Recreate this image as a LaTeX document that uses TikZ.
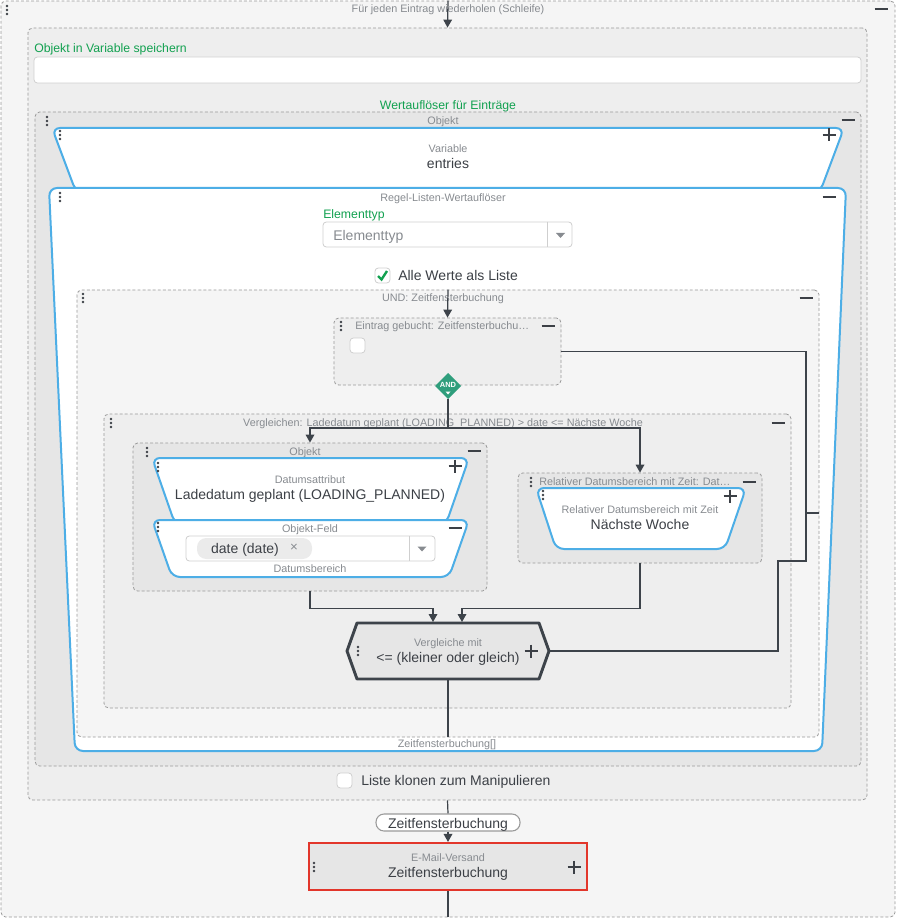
\documentclass[tikz,border=0pt]{standalone}
\usepackage{fontspec}
\setmainfont{Liberation Sans}
\usetikzlibrary{fit,arrows.meta}

\definecolor{loopbg}{HTML}{F5F5F5}
\definecolor{boxbg}{HTML}{EEEEEE}
\definecolor{objbg}{HTML}{E6E6E6}
\definecolor{dashgray}{HTML}{9A9A9A}
\definecolor{blueline}{HTML}{4DAEE6}
\definecolor{greentxt}{HTML}{12A150}
\definecolor{graytxt}{HTML}{878B90}
\definecolor{darktxt}{HTML}{3C4046}
\definecolor{wirecol}{HTML}{3D434A}
\definecolor{redline}{HTML}{E2362B}
\definecolor{andgreen}{HTML}{2F9E7C}
\definecolor{fieldline}{HTML}{CFCFCF}
\definecolor{chipbg}{HTML}{EBEBEB}

\tikzset{
  dashbox/.style={draw=dashgray, dash pattern=on 2.2pt off 1.6pt, line width=0.6pt, rounded corners=3.5pt, inner sep=0pt},
  bluebox/.style={draw=blueline, line width=1.5pt, fill=white, rounded corners=6pt},
  field/.style={draw=fieldline, line width=0.6pt, fill=white, rounded corners=2.5pt, inner sep=0pt},
  tinylbl/.style={text=graytxt, font=\fontsize{8.1}{9}\selectfont, inner sep=0pt, text height=8.9pt, text depth=1.6pt},
  biglbl/.style={text=darktxt, font=\fontsize{10.5}{12}\selectfont, inner sep=0pt, text height=10.6pt, text depth=2.1pt},
  greenlbl/.style={text=greentxt, font=\fontsize{9.2}{10}\selectfont, inner sep=0pt, text height=9.7pt, text depth=1.9pt},
  wire/.style={draw=wirecol, line width=0.9pt},
  arr/.style={wire, -{Triangle[length=6pt,width=6.5pt]}},
}

\begin{document}
\begin{tikzpicture}[x=0.75pt,y=-0.75pt]
\useasboundingbox (0,0) rectangle (896,919);

 %loop
 \node[dashbox, fill=loopbg, fit={(1,1) (895,917)}] (loop) {};
 \node[tinylbl] (looplbl) at (448,8) {Für jeden Eintrag wiederholen (Schleife)};

 %store in variable
 \node[dashbox, fill=boxbg, fit={(28,28) (867,800)}] (store) {};
 \draw[arr] (loop.north) -- (store.north);
 \node[greenlbl, anchor=west] (storelbl) at (34,47) {Objekt in Variable speichern};
 \node[field, fit={(34,57) (861,83)}] (varfield) {};
 \node[greenlbl] (reslbl) at (448,104) {Wertauflöser für Einträge};

 %objekt
 \node[dashbox, fill=objbg, fit={(35,112) (861,766)}] (objekt) {};
 \node[tinylbl] (objektlbl) at (443,120) {Objekt};

 \draw[bluebox] (76,192) -- (52,128) -- (844,128) -- (820,192) -- cycle;
 \node[tinylbl] (varlbl) at (448,148) {Variable};
 \node[biglbl] (varval) at (448,163) {entries};

 %rule list resolver
 \draw[bluebox] (49,188) -- (846,188) -- (822,751) -- (75,751) -- cycle;
 \node[tinylbl] (regellbl) at (443,197) {Regel-Listen-Wertauflöser};
 \node[greenlbl, anchor=west] (typlbl) at (323,213) {Elementtyp};
 \node[field, fit={(323,222) (572,247)}] (typfield) {};
 \draw[fieldline, line width=0.6pt] (typfield.north east) ++(-25,0) -- ++(0,25);
 \fill[graytxt] (556,233) -- (565,233) -- (560.5,238) -- cycle;
 \node[biglbl, text=graytxt, anchor=west] (typval) at (333,235) {Elementtyp};

 \node[field, fit={(375,268) (390,283)}] (allbox) {};
 \draw[greentxt, line width=1.8pt] (378,276) -- (381.5,279.5) -- (387,271);
 \node[biglbl, anchor=west] (alllbl) at (398,275) {Alle Werte als Liste};

 %and
 \node[dashbox, fill=loopbg, fit={(77,290) (819,737)}] (und) {};
 \node[tinylbl] (undlbl) at (443,297) {UND: Zeitfensterbuchung};

 \node[dashbox, fill=boxbg, fit={(334,318) (561,385)}] (eintrag) {};
 \draw[arr] (und.north) -- (eintrag.north);
 \node[tinylbl, anchor=west] (eintraglbl) at (355,325) {Eintrag gebucht: Zeitfensterbuchu…};
 \node[field, fit={(350,338) (365,353)}] (bookedbox) {};

 \fill[andgreen] (448,373) -- (461,386) -- (448,399) -- (435,386) -- cycle;
 \node[text=white, font=\bfseries\fontsize{5.6}{6}\selectfont, inner sep=0pt] (andgate) at (448,385) {AND};
 \fill[white] (445.5,391.5) -- (450.5,391.5) -- (448,394.5) -- cycle;
 \coordinate (andout) at (448,399);

 %compare
 \node[dashbox, fill=boxbg, fit={(104,414) (791,708)}] (vergl) {};
 \node[tinylbl] (vergllbl) at (443,422) {Vergleichen: Ladedatum geplant (LOADING\_PLANNED) > date <= Nächste Woche};

 \node[dashbox, fill=objbg, fit={(133,443) (487,591)}] (objekt2) {};
 \node[tinylbl] (objekt2lbl) at (305,451) {Objekt};

 \draw[bluebox] (175,524) -- (152,458) -- (469,458) -- (446,524) -- cycle;
 \node[tinylbl] (attrlbl) at (310,479) {Datumsattribut};
 \node[biglbl] (attrval) at (310,494) {Ladedatum geplant (LOADING\_PLANNED)};

 \draw[bluebox] (152,520) -- (469,520) -- (449,577) -- (172,577) -- cycle;
 \node[tinylbl] (feldlbl) at (310,528) {Objekt-Feld};
 \node[field, fit={(186,536) (435,561)}] (feldfield) {};
 \draw[fieldline, line width=0.6pt] (409,536) -- (409,561);
 \fill[graytxt] (417.5,546.5) -- (426.5,546.5) -- (422,551.5) -- cycle;
 \node[fill=chipbg, rounded corners=7pt, inner sep=0pt, fit={(197,538) (312,559)}] (chip) {};
 \node[biglbl] (chipval) at (245,548) {date (date)};
 \node[text=graytxt, font=\fontsize{10}{12}\selectfont, inner sep=0pt] (chipx) at (294,548) {×};
 \node[tinylbl] (bereichlbl) at (310,568) {Datumsbereich};

 \node[dashbox, fill=objbg, fit={(518,473) (762,563)}] (relbox) {};
 \node[tinylbl, anchor=west] (rellbl) at (539,481) {Relativer Datumsbereich mit Zeit: Dat…};
 \draw[bluebox] (556,549) -- (536,488) -- (746,488) -- (725,549) -- cycle;
 \node[tinylbl] (reltyp) at (640,509) {Relativer Datumsbereich mit Zeit};
 \node[biglbl] (relval) at (640,524) {Nächste Woche};

 \draw[wire] (andout) -- (448,428) coordinate (split);
 \draw[arr] (split) -| (objekt2.north);
 \draw[arr] (split) -| (relbox.north);

 %compare with
 \draw[draw=wirecol, line width=2.2pt, fill=objbg, line join=round]
   (347,651) -- (357,623) -- (539,623) -- (549,651) -- (539,679) -- (357,679) -- cycle;
 \coordinate (cmpin1) at (433,622);
 \coordinate (cmpin2) at (462,622);
 \coordinate (cmptip) at (550,651);
 \coordinate (cmpbot) at (448,680);
 \node[tinylbl] (cmplbl) at (448,642) {Vergleiche mit};
 \node[biglbl] (cmpval) at (448,657) {<= (kleiner oder gleich)};

 \draw[arr] (objekt2.south) -- ++(0,17) -| (cmpin1);
 \draw[arr] (relbox.south) -- ++(0,45) -| (cmpin2);
 \draw[wire] (eintrag.east) -- (806,351.5) -- (806,561) -- (778,561) -- (778,651) -- (cmptip);
 \draw[wire] (806,513) -- (und.east |- 0,513);
 \draw[wire] (cmpbot) -- (cmpbot |- und.south);

 \node[tinylbl] (listlbl) at (447,743) {Zeitfensterbuchung[]};

 %clone list
 \node[field, fit={(337,773) (352,788)}] (clonebox) {};
 \node[biglbl, anchor=west] (clonelbl) at (361,780) {Liste klonen zum Manipulieren};

 %mail
 \node[draw=dashgray, line width=0.8pt, fill=white, rounded corners=6pt, inner sep=0pt, fit={(376,814) (520,831)}] (pill) {};
 \node[biglbl] (pilllbl) at (448,822.5) {Zeitfensterbuchung};
 \node[draw=redline, line width=1.6pt, fill=objbg, inner sep=0pt, fit={(309,843) (587,890)}] (mail) {};
 \node[tinylbl] (maillbl) at (448,857) {E-Mail-Versand};
 \node[biglbl] (mailval) at (448,872) {Zeitfensterbuchung};
 \draw[wire] (store.south) -- (pill.north);
 \draw[arr] (pill.south) -- (mail.north);
 \draw[wire] (mail.south) -- (loop.south);

 %handles
 \foreach \x/\y in {7/10, 47/121, 60/135, 60/197, 83/298, 341/326, 111/423, 147/452, 158/467,
                    158/527, 531/482, 543/495, 358/651, 314/867} {
   \foreach \k in {-4,0,4}
     \fill[darktxt] (\x,\y+\k) circle (1.1pt);
 }
 \foreach \x/\y in {881/9, 848/120, 829/197, 806/298, 548/326, 778/423, 474/451, 455/528, 749/482} {
   \draw[darktxt, line width=1.4pt] (\x-6.5,\y) -- (\x+6.5,\y);
 }
 \foreach \x/\y in {829/135, 455/466, 730/496, 531/651, 574/867} {
   \draw[darktxt, line width=1.4pt] (\x-6.5,\y) -- (\x+6.5,\y) (\x,\y-6.5) -- (\x,\y+6.5);
 }

\end{tikzpicture}
\end{document}
